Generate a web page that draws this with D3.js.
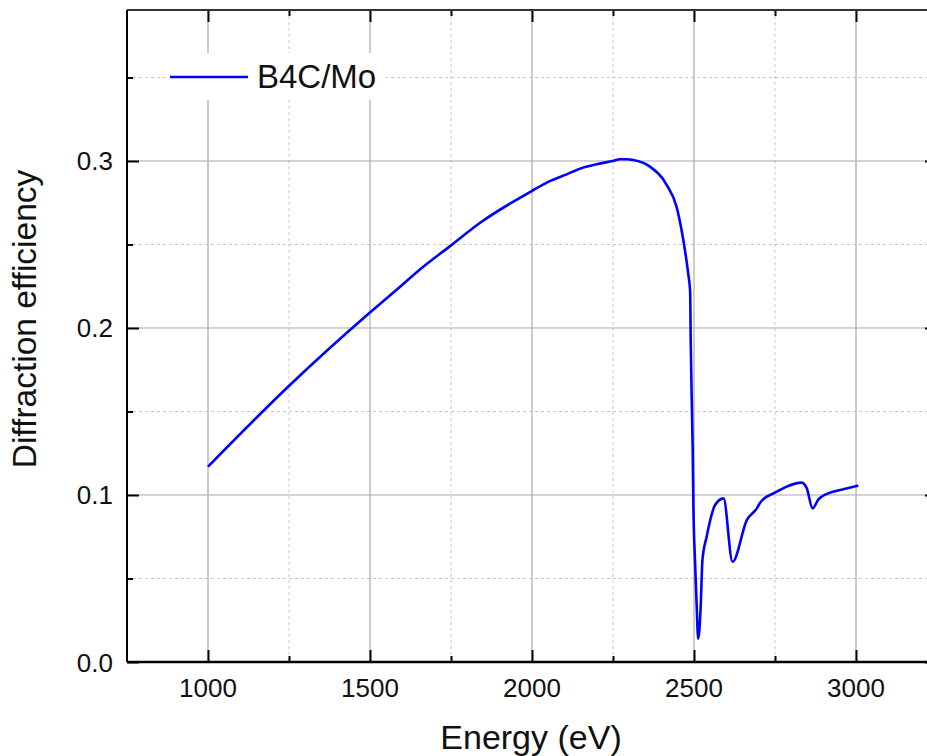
<!DOCTYPE html>
<html>
<head>
<meta charset="utf-8">
<script src="https://cdn.jsdelivr.net/npm/d3@7"></script>
<style>
  html, body { margin: 0; padding: 0; background: #fff; }
  svg { display: block; font-family: "Liberation Sans", Arial, sans-serif; }
</style>
</head>
<body>
<svg id="chart" width="927" height="756"></svg>
<script>
// ---- data ----
const energy = [1000, 1248, 1498, 1593, 1654, 1747, 1840, 1999, 2050, 2107, 2150, 2200, 2249, 2272, 2292, 2313, 2364, 2416, 2446, 2467, 2482, 2488, 2490, 2493, 2496, 2498, 2503, 2508, 2513, 2517, 2521, 2526, 2539, 2565, 2591, 2619, 2663, 2694, 2704, 2745, 2765, 2786, 2832, 2848, 2866, 2884, 2920, 2961, 3007];
const efficiency = [0.117, 0.165, 0.209, 0.2247, 0.235, 0.249, 0.263, 0.282, 0.2875, 0.292, 0.2955, 0.298, 0.300, 0.301, 0.301, 0.3006, 0.2966, 0.2856, 0.2727, 0.2527, 0.2327, 0.222, 0.191, 0.157, 0.127, 0.095, 0.061, 0.035, 0.014, 0.020, 0.035, 0.061, 0.075, 0.094, 0.098, 0.060, 0.085, 0.092, 0.0954, 0.101, 0.103, 0.105, 0.1074, 0.104, 0.092, 0.0974, 0.1014, 0.1034, 0.1056];
const seriesName = "B4C/Mo";
const xMajorTicks = [1000, 1500, 2000, 2500, 3000];
const xMinorTicks = [1250, 1750, 2250, 2750];
const yMajorTicks = [0.0, 0.1, 0.2, 0.3];
const yMinorTicks = [0.05, 0.15, 0.25, 0.35];
const xTitle = "Energy (eV)";
const yTitle = "Diffraction efficiency";

(function () {
// ---- layout ----
const pL = 127, pR = 937, pT = 10, pB = 662;
const x = d3.scaleLinear().domain([750, 3250]).range([pL, pR]);
const y = d3.scaleLinear().domain([0, 0.3904]).range([pB, pT]);

const svg = d3.select("#chart");

// grid
const grid = svg.append("g");
grid.selectAll(".gxm").data(xMinorTicks).join("line")
  .attr("x1", d => x(d)).attr("x2", d => x(d)).attr("y1", pT).attr("y2", pB)
  .attr("stroke", "#c8c8c8").attr("stroke-width", 1).attr("stroke-dasharray", "3,3");
grid.selectAll(".gym").data(yMinorTicks).join("line")
  .attr("y1", d => y(d)).attr("y2", d => y(d)).attr("x1", pL).attr("x2", pR)
  .attr("stroke", "#c8c8c8").attr("stroke-width", 1).attr("stroke-dasharray", "3,3");
grid.selectAll(".gxM").data(xMajorTicks).join("line")
  .attr("x1", d => x(d)).attr("x2", d => x(d)).attr("y1", pT).attr("y2", pB)
  .attr("stroke", "#999").attr("stroke-width", 1);
grid.selectAll(".gyM").data(yMajorTicks.filter(d => d > 0)).join("line")
  .attr("y1", d => y(d)).attr("y2", d => y(d)).attr("x1", pL).attr("x2", pR)
  .attr("stroke", "#a8a8a8").attr("stroke-width", 1);

// legend background
svg.append("rect").attr("x", 167).attr("y", 53).attr("width", 218).attr("height", 47).attr("fill", "#fff");

// axes (ticks inward)
const majorLen = 12, minorLen = 6;
const bAxis = d3.axisTop(x).tickValues(xMajorTicks).tickSize(majorLen).tickFormat("");
const bMinor = d3.axisTop(x).tickValues(xMinorTicks).tickSize(minorLen).tickFormat("");
const tAxis = d3.axisBottom(x).tickValues(xMajorTicks).tickSize(majorLen).tickFormat("");
const tMinor = d3.axisBottom(x).tickValues(xMinorTicks).tickSize(minorLen).tickFormat("");
const lAxis = d3.axisRight(y).tickValues(yMajorTicks).tickSize(majorLen).tickFormat("");
const lMinor = d3.axisRight(y).tickValues(yMinorTicks).tickSize(minorLen).tickFormat("");
const rAxis = d3.axisLeft(y).tickValues(yMajorTicks).tickSize(majorLen).tickFormat("");
const rMinor = d3.axisLeft(y).tickValues(yMinorTicks).tickSize(minorLen).tickFormat("");

function styleAx(g) {
  g.select(".domain").remove();
  g.selectAll(".tick line").attr("stroke", "#000").attr("stroke-width", 2);
}
svg.append("g").attr("transform", `translate(0,${pB})`).call(bAxis).call(styleAx);
svg.append("g").attr("transform", `translate(0,${pB})`).call(bMinor).call(styleAx);
svg.append("g").attr("transform", `translate(0,${pT})`).call(tAxis).call(styleAx);
svg.append("g").attr("transform", `translate(0,${pT})`).call(tMinor).call(styleAx);
svg.append("g").attr("transform", `translate(${pL},0)`).call(lAxis).call(styleAx);
svg.append("g").attr("transform", `translate(${pL},0)`).call(lMinor).call(styleAx);
svg.append("g").attr("transform", `translate(${pR},0)`).call(rAxis).call(styleAx);
svg.append("g").attr("transform", `translate(${pR},0)`).call(rMinor).call(styleAx);

// frame
svg.append("line").attr("x1", pL).attr("x2", pR).attr("y1", pT).attr("y2", pT).attr("stroke", "#333").attr("stroke-width", 2);
svg.append("line").attr("x1", pR).attr("x2", pR).attr("y1", pT).attr("y2", pB).attr("stroke", "#333").attr("stroke-width", 2);
svg.append("line").attr("x1", pL).attr("x2", pR).attr("y1", pB).attr("y2", pB).attr("stroke", "#000").attr("stroke-width", 2.5);
svg.append("line").attr("x1", pL).attr("x2", pL).attr("y1", pT).attr("y2", pB).attr("stroke", "#000").attr("stroke-width", 2);

// tick labels
svg.append("g").selectAll("text").data(xMajorTicks).join("text")
  .attr("x", d => x(d)).attr("y", 697).attr("text-anchor", "middle")
  .attr("font-size", 26).attr("fill", "#111").text(d => d);
svg.append("g").selectAll("text").data(yMajorTicks).join("text")
  .attr("x", 113).attr("y", d => y(d) + 9.5).attr("text-anchor", "end")
  .attr("font-size", 26).attr("fill", "#111").text(d => d.toFixed(1));

// axis titles
svg.append("text").attr("x", 531).attr("y", 749).attr("text-anchor", "middle")
  .attr("font-size", 34).attr("fill", "#111").text(xTitle);
svg.append("text").attr("transform", `translate(36,319) rotate(-90)`).attr("text-anchor", "middle")
  .attr("font-size", 33.5).attr("fill", "#111").text(yTitle);

// data line
const pts = energy.map((e, i) => [e, efficiency[i]]);
svg.append("path").datum(pts)
  .attr("d", d3.line().x(d => x(d[0])).y(d => y(d[1])).curve(d3.curveMonotoneX))
  .attr("fill", "none").attr("stroke", "#0000ff").attr("stroke-width", 2.6)
  .attr("stroke-linejoin", "round");

// legend
svg.append("line").attr("x1", 170).attr("x2", 248).attr("y1", 77).attr("y2", 77)
  .attr("stroke", "#0000ff").attr("stroke-width", 2.6);
svg.append("text").attr("x", 257).attr("y", 88).attr("font-size", 33).attr("fill", "#111").text(seriesName);
})();
</script>
</body>
</html>
